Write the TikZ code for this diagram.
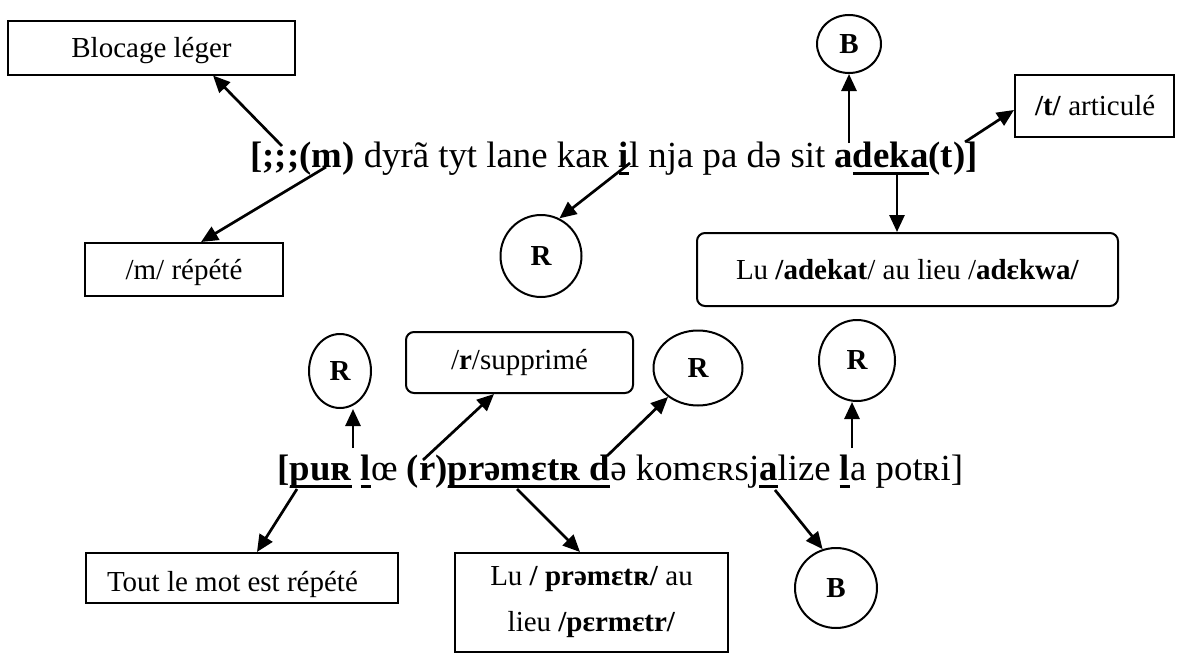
\documentclass[tikz,border=0pt]{standalone}
\usepackage{fontspec}
\setmainfont{Liberation Serif}
\usetikzlibrary{arrows.meta,shapes.geometric,calc}

% thick underline for the marked segments of the transcriptions
\newsavebox\ulbox
\newcommand\ulx[1]{\sbox\ulbox{#1}\rlap{\rule[-4pt]{\wd\ulbox}{1.5pt}}\usebox\ulbox}
% lower a box text without changing its extent
\newcommand\lowered[2]{\raisebox{-#1}[\height][\depth]{#2}}
\newcommand\boxfont{\fontsize{14.5}{17}\selectfont}
\newcommand\linefont{\fontsize{18.4}{21}\selectfont}

\tikzset{
  box/.style={draw, line width=1pt, inner sep=0pt, font=\boxfont},
  rbox/.style={box, rounded corners=4pt},
  ring/.style={draw, ellipse, line width=1pt, inner sep=0pt, font=\boxfont\bfseries},
  arr/.style={-{Triangle[length=8.5pt,width=7.5pt]}, line width=1.35pt},
  transcr/.style={anchor=base west, inner sep=0pt, font=\linefont},
}

\begin{document}
\begin{tikzpicture}[x=0.5pt, y=-0.5pt]
\useasboundingbox (0,0) rectangle (1178,653);
\fill[white] (0,0) rectangle (1178,653);

% first utterance
\node[transcr] (lineone) at (250,167)
  {\textbf{[;;;(m)} dyrã tyt lane kaʀ \ulx{\textbf{i}}l nja pa də sit \textbf{a\ulx{deka}(t)]}};

% second utterance
\node[transcr] (linetwo) at (277,480)
  {\textbf{[\ulx{puʀ}} \ulx{\textbf{l}}œ \textbf{(r)}\ulx{\textbf{prəmɛtʀ d}}ə komɛʀsj\ulx{\textbf{a}}lize \ulx{\textbf{l}}a potʀi]};

% annotations of the first utterance
\node[box, minimum width=143.5pt, minimum height=27pt] (blocage) at (151.5,47.5) {\lowered{1.5pt}{Blocage léger}};
\node[box, minimum width=99pt, minimum height=26.5pt] (mbox) at (184,269.5) {\lowered{1.5pt}{/m/ répété}};
\node[ring, minimum width=40.5pt, minimum height=41pt] (Rone) at (541,256) {R};
\node[ring, minimum width=32pt, minimum height=29pt] (Btop) at (849,44) {B};
\node[box, minimum width=79.5pt, minimum height=31pt] (tbox) at (1094.5,106)
  {\makebox[79.5pt][l]{\hspace{10pt}\textbf{/t/} articulé}};
\node[rbox, minimum width=210.5pt, minimum height=36.5pt] (luA) at (907.5,269.5)
  {Lu \textbf{/adekat}/ au lieu /\textbf{adɛkwa/}};

% annotations of the second utterance
\node[ring, minimum width=31pt, minimum height=37pt] (rA) at (340,371) {R};
\node[rbox, minimum width=113.5pt, minimum height=30.5pt] (rbox) at (519.5,362.5) {/\textbf{r}/supprimé};
\node[ring, minimum width=44.5pt, minimum height=37.5pt] (rB) at (698,368) {R};
\node[ring, minimum width=38pt, minimum height=40.5pt] (rC) at (857,360.5) {R};
\node[box, minimum width=156pt, minimum height=25pt] (tout) at (242,578)
  {\makebox[156pt][l]{\hspace{10.5pt}\lowered{3pt}{Tout le mot est répété}}};
\node[box, minimum width=136.5pt, minimum height=49.5pt, align=center,
      font=\fontsize{14.5}{23}\selectfont] (luB) at (591.5,602.5)
  {Lu \textbf{/ prəmɛtʀ/} au\\lieu \textbf{/pɛrmɛtr/}};
\node[ring, minimum width=41pt, minimum height=40pt] (Bbot) at (836,588) {B};

% starting points on the transcriptions
\coordinate (s1) at (282,146);
\coordinate (s2) at (326,167);
\coordinate (s3) at (630,163);
\coordinate (s4) at (849,143);
\coordinate (s5) at (965,142);
\coordinate (s6) at (897,173);
\coordinate (t1) at (353,448);
\coordinate (t2) at (423,460);
\coordinate (t3) at (607,456);
\coordinate (t4) at (852,448);
\coordinate (u1) at (297,489);
\coordinate (u2) at (517,489);
\coordinate (u3) at (775,490);

% connectors
\draw[arr] (s1) -- ([xshift=30.75pt]blocage.south);
\draw[arr] (s2) -- ([xshift=8.5pt]mbox.north);
\draw[arr] (s3) -- (Rone.64);
\draw[arr] (s4) -- (s4 |- Btop.south);
\draw[arr] (s5) -- ([yshift=-2pt]tbox.west);
\draw[arr] (s6) -- (s6 |- luA.north);
\draw[arr] (t1) -- (t1 |- rA.south);
\draw[arr] (t2) -- ([xshift=-12.75pt]rbox.south);
\draw[arr] (t3) -- (rB);
\draw[arr] (t4) -- (t4 |- rC.south);
\draw[arr] (u1) -- ([xshift=7.5pt]tout.north);
\draw[arr] (u2) -- ([xshift=-5.75pt]luB.north);
\draw[arr] (u3) -- (Bbot.109);
\end{tikzpicture}
\end{document}
